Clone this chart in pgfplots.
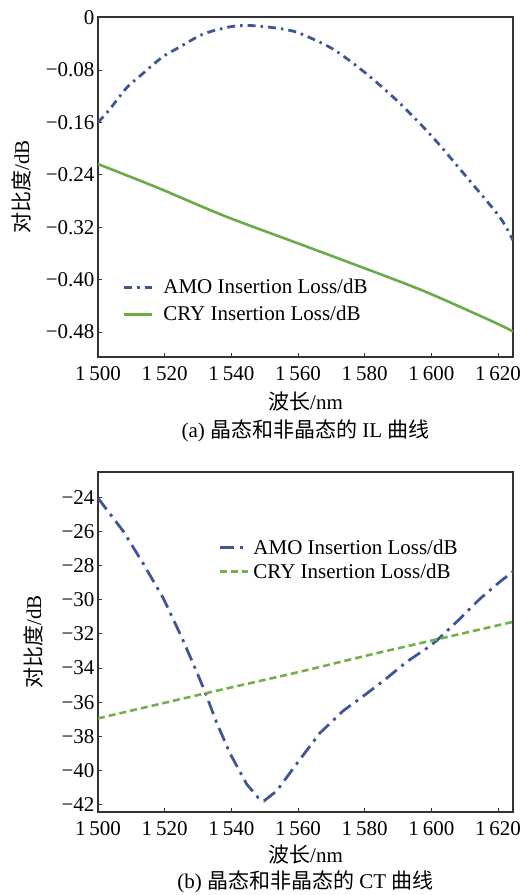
\documentclass[border=0pt]{standalone}
\usepackage{fontspec}
\setmainfont{Liberation Serif}
\newfontfamily\cjk{Noto Sans CJK SC}
\usepackage{pgfplots}
\pgfplotsset{compat=1.18}
\definecolor{amoblue}{RGB}{62,86,150}
\definecolor{crygreen}{RGB}{104,172,70}
\definecolor{crygreenb}{RGB}{112,178,72}
\pgfplotsset{
  myaxis/.style={
    width=415bp, height=340bp, scale only axis,
    xmin=1500, xmax=1624.5,
    xtick={1500,1520,1540,1560,1580,1600,1620},
    xticklabels={1\hspace{0.19em}500,1\hspace{0.19em}520,1\hspace{0.19em}540,1\hspace{0.19em}560,1\hspace{0.19em}580,1\hspace{0.19em}600,1\hspace{0.19em}620},
    xtick pos=bottom, ytick pos=left, tick align=inside,
    major tick length=4bp,
    axis line style={draw=black!80, line width=1.1pt},
    tick style={draw=black!80, line width=0.9pt},
    tick label style={font=\fontsize{21bp}{25bp}\selectfont},
    xticklabel style={yshift=-6bp},
    label style={font=\fontsize{21bp}{28bp}\selectfont},
    xlabel style={align=center},
    legend style={draw=none, fill=none, font=\fontsize{21bp}{25bp}\selectfont,
      inner sep=0pt, nodes={inner sep=1.5bp}},
    legend cell align=left,
    legend image code/.code={\draw[##1] (0bp,0bp) -- (28bp,0bp);},
  }
}
\begin{document}
\begin{tikzpicture}
\useasboundingbox (0,0) rectangle (522bp,-895bp);
\begin{axis}[myaxis,
  at={(98bp,-17bp)}, anchor=north west,
  ymin=-0.518, ymax=0.001,
  ytick={0,-0.08,-0.16,-0.24,-0.32,-0.40,-0.48},
  yticklabels={0,−0.08,−0.16,−0.24,−0.32,−0.40,−0.48},
  ylabel={{\cjk 对比度}/dB},
  ylabel style={at={(axis description cs:-0.1855,0.5)}, anchor=center},
  xlabel={{\cjk 波长}/nm\\(a) {\cjk 晶态和非晶态的} IL {\cjk 曲线}},
  xlabel style={at={(axis description cs:0.5,-0.093)}, anchor=north},
  legend style={at={(axis description cs:0.06,0.165)}, anchor=west, row sep=8bp, column sep=8bp},
]
\addplot[amoblue, line width=2.8pt, dash pattern=on 8bp off 5bp on 2.5bp off 5bp, smooth, tension=0.5] coordinates {
(1500,-0.160) (1503.5,-0.140) (1508.6,-0.107) (1512.6,-0.089) (1519.1,-0.061)
(1524.1,-0.046) (1531.6,-0.025) (1539.6,-0.014) (1545.6,-0.012) (1553.6,-0.016)
(1560,-0.023) (1570.5,-0.048) (1580.6,-0.086) (1590.6,-0.131) (1600.5,-0.183)
(1610.7,-0.244) (1620.6,-0.305) (1624.5,-0.340)};
\addlegendentry{AMO Insertion Loss/dB}
\addplot[crygreen, line width=2.6pt, smooth, tension=0.5] coordinates {
(1500,-0.2235) (1517.6,-0.259) (1537.6,-0.302) (1557.6,-0.340) (1577.6,-0.378)
(1597.6,-0.417) (1617.6,-0.462) (1624.5,-0.479)};
\addlegendentry{CRY Insertion Loss/dB}
\end{axis}
\begin{axis}[myaxis,
  at={(98bp,-472bp)}, anchor=north west,
  ymin=-42.43, ymax=-22.53,
  ytick={-24,-26,-28,-30,-32,-34,-36,-38,-40,-42},
  yticklabels={−24,−26,−28,−30,−32,−34,−36,−38,−40,−42},
  ylabel={{\cjk 对比度}/dB},
  ylabel style={at={(axis description cs:-0.1566,0.5)}, anchor=center},
  xlabel={{\cjk 波长}/nm\\[-1.5bp](b) {\cjk 晶态和非晶态的} CT {\cjk 曲线}},
  xlabel style={at={(axis description cs:0.5,-0.086)}, anchor=north},
  legend style={at={(axis description cs:0.289,0.742)}, anchor=west, row sep=5bp, column sep=3bp},
]
\addplot[amoblue, line width=2.8pt, dash pattern=on 14bp off 6bp on 3bp off 6bp] coordinates {
(1500,-24.06) (1507.6,-26.0) (1513.6,-27.9) (1519.6,-29.92) (1525.1,-32.2)
(1529.6,-34.22) (1532.1,-35.4) (1535.6,-37.2) (1539.6,-39.0) (1544.6,-40.8)
(1548.1,-41.6) (1549.8,-41.78) (1553.6,-41.2) (1560,-39.5) (1566.6,-37.8)
(1573.6,-36.5) (1580.6,-35.5) (1586.6,-34.6) (1592.6,-33.64) (1598.6,-32.85)
(1601.6,-32.4) (1607.6,-31.3) (1614.6,-29.95) (1620.6,-28.95) (1624.5,-28.36)};
\addlegendentry{AMO Insertion Loss/dB}
\addplot[crygreenb, line width=2.6pt, dash pattern=on 7bp off 4bp, smooth, tension=0.5] coordinates {
(1500,-36.95) (1532.1,-35.49) (1560.6,-34.22) (1580,-33.30) (1600,-32.40) (1624.5,-31.30)};
\addlegendentry{CRY Insertion Loss/dB}
\end{axis}
\end{tikzpicture}
\end{document}
